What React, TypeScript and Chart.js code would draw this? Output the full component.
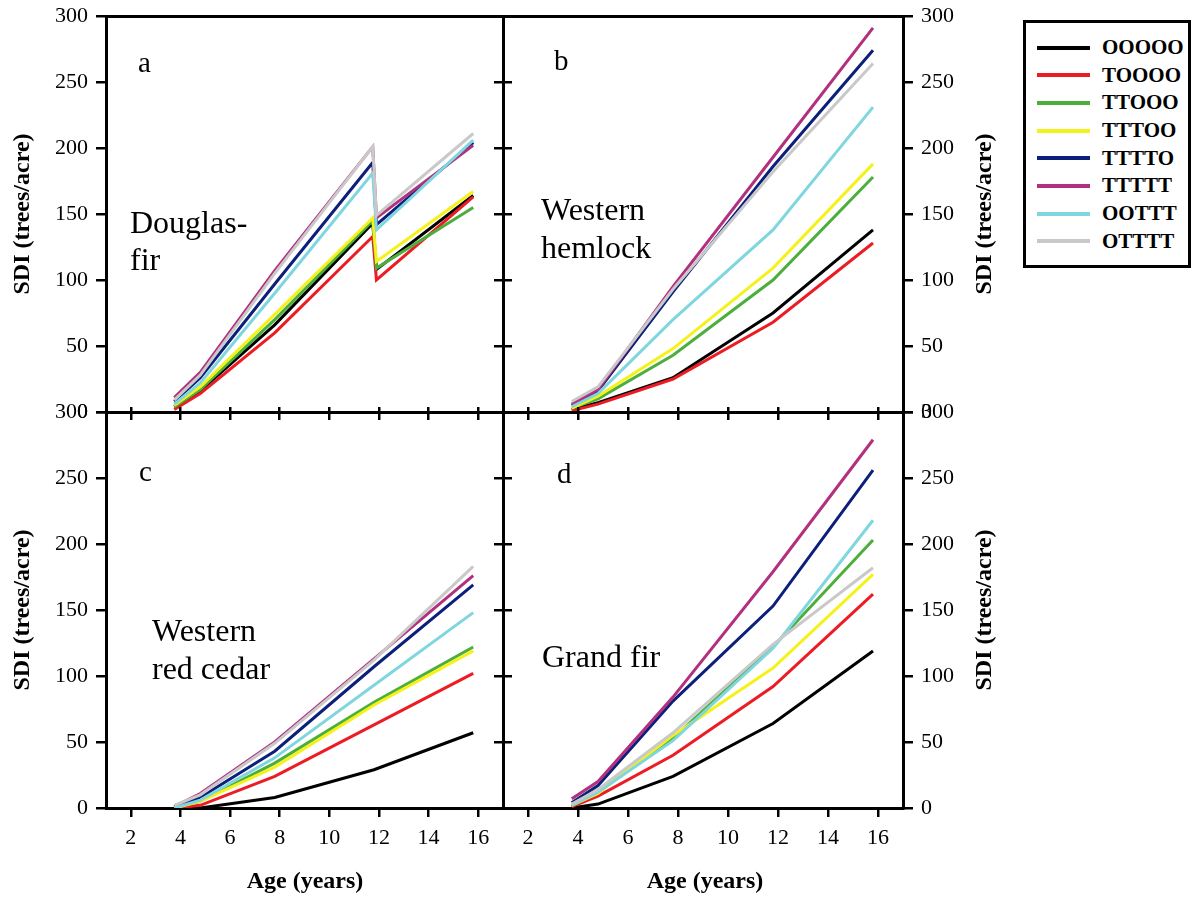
import React, { useEffect, useRef } from "react";
import { Chart, registerables } from "chart.js";

Chart.register(...registerables);

const W = 1192;
const H = 898;
const SERIF = "'Liberation Serif', 'Times New Roman', Times, serif";

// ---- data ----
const SERIES = ["OOOOO", "TOOOO", "TTOOO", "TTTOO", "TTTTO", "TTTTT", "OOTTT", "OTTTT"];
const COLORS = ["#000000", "#ec1c24", "#4caf3c", "#f5f21a", "#0c1f7a", "#b3307e", "#7fd6de", "#c9c9c9"];

const X_TICKS = [2, 4, 6, 8, 10, 12, 14, 16];
const Y_TICKS = [0, 50, 100, 150, 200, 250, 300];

const AGES = [3.75, 4.8, 7.8, 11.8, 15.8];
const AGES_DF = [3.75, 4.8, 7.8, 11.75, 11.9, 15.8];

// a: Douglas-fir (thinning drop at ~12)
const DF_OOOOO = [4, 16, 66, 143, 108, 164];
const DF_TOOOO = [2, 14, 60, 133, 100, 163];
const DF_TTOOO = [4, 17, 70, 145, 109, 155];
const DF_TTTOO = [5, 19, 74, 147, 114, 167];
const DF_TTTTO = [8, 26, 97, 189, 142, 204];
const DF_TTTTT = [11, 30, 107, 201, 147, 202];
const DF_OOTTT = [6, 22, 90, 181, 138, 206];
const DF_OTTTT = [9, 28, 105, 201, 149, 211];

// b: Western hemlock
const WH_OOOOO = [2, 7, 26, 75, 138];
const WH_TOOOO = [1, 6, 25, 68, 128];
const WH_TTOOO = [3, 10, 43, 100, 178];
const WH_TTTOO = [3, 12, 48, 109, 188];
const WH_TTTTO = [5, 16, 91, 186, 274];
const WH_TTTTT = [6, 17, 95, 193, 291];
const WH_OOTTT = [4, 14, 70, 138, 231];
const WH_OTTTT = [8, 19, 93, 182, 264];

// c: Western red cedar
const RC_OOOOO = [0, 0, 8, 29, 57];
const RC_TOOOO = [0, 2, 24, 63, 102];
const RC_TTOOO = [0, 5, 34, 80, 122];
const RC_TTTOO = [0, 5, 31, 78, 119];
const RC_TTTTO = [1, 8, 43, 107, 169];
const RC_TTTTT = [1, 11, 50, 113, 176];
const RC_OOTTT = [0, 6, 38, 93, 148];
const RC_OTTTT = [2, 10, 49, 112, 183];

// d: Grand fir
const GF_OOOOO = [0, 3, 24, 64, 119];
const GF_TOOOO = [1, 9, 40, 92, 162];
const GF_TTOOO = [2, 12, 53, 122, 203];
const GF_TTTOO = [2, 11, 55, 106, 177];
const GF_TTTTO = [4, 17, 81, 153, 256];
const GF_TTTTT = [7, 20, 84, 179, 279];
const GF_OOTTT = [2, 12, 51, 121, 218];
const GF_OTTTT = [3, 14, 57, 124, 182];

const DOUGLAS_FIR = [DF_OOOOO, DF_TOOOO, DF_TTOOO, DF_TTTOO, DF_TTTTO, DF_TTTTT, DF_OOTTT, DF_OTTTT];
const WESTERN_HEMLOCK = [WH_OOOOO, WH_TOOOO, WH_TTOOO, WH_TTTOO, WH_TTTTO, WH_TTTTT, WH_OOTTT, WH_OTTTT];
const RED_CEDAR = [RC_OOOOO, RC_TOOOO, RC_TTOOO, RC_TTTOO, RC_TTTTO, RC_TTTTT, RC_OOTTT, RC_OTTTT];
const GRAND_FIR = [GF_OOOOO, GF_TOOOO, GF_TTOOO, GF_TTTOO, GF_TTTTO, GF_TTTTT, GF_OOTTT, GF_OTTTT];

const Y_TITLE = "SDI (trees/acre)";
const X_TITLE = "Age (years)";

// ---- layout ----
type Side = { len: number; labels?: boolean } | null;
type TextItem = { text: string; x: number; y: number; size: number; bold?: boolean; align?: CanvasTextAlign; baseline?: CanvasTextBaseline; rot?: number };
type PanelCfg = {
  data: number[][];
  ages: number[];
  rect: { l: number; t: number; r: number; b: number };
  bottom: Side; top: Side; left: Side; right: Side;
  texts: TextItem[];
};

const ROT = -Math.PI / 2;
const Y_LABEL_SPACE = 80;
const X_LABEL_SPACE = 50;

const PANELS: PanelCfg[] = [
  {
    data: DOUGLAS_FIR, ages: AGES_DF,
    rect: { l: 106, t: 16, r: 503, b: 412 },
    bottom: { len: 8 }, top: null, left: { len: 10, labels: true }, right: { len: 9 },
    texts: [
      { text: "a", x: 138, y: 72, size: 29 },
      { text: "Douglas-", x: 130, y: 233, size: 32 },
      { text: "fir", x: 130, y: 270, size: 32 },
      { text: Y_TITLE, x: 23, y: 214, size: 24, bold: true, align: "center", baseline: "middle", rot: ROT },
    ],
  },
  {
    data: WESTERN_HEMLOCK, ages: AGES,
    rect: { l: 503, t: 16, r: 903, b: 412 },
    bottom: { len: 8 }, top: null, left: { len: 9 }, right: { len: 10, labels: true },
    texts: [
      { text: "b", x: 554, y: 70, size: 29 },
      { text: "Western", x: 541, y: 220, size: 32 },
      { text: "hemlock", x: 541, y: 258, size: 32 },
      { text: Y_TITLE, x: 985, y: 214, size: 24, bold: true, align: "center", baseline: "middle", rot: ROT },
    ],
  },
  {
    data: RED_CEDAR, ages: AGES,
    rect: { l: 106, t: 412, r: 503, b: 808 },
    bottom: { len: 9, labels: true }, top: { len: 5 }, left: { len: 10, labels: true }, right: { len: 9 },
    texts: [
      { text: "c", x: 139, y: 481, size: 29 },
      { text: "Western", x: 152, y: 641, size: 32 },
      { text: "red cedar", x: 152, y: 679, size: 32 },
      { text: Y_TITLE, x: 23, y: 610, size: 24, bold: true, align: "center", baseline: "middle", rot: ROT },
      { text: X_TITLE, x: 305, y: 882, size: 24, bold: true, align: "center", baseline: "middle" },
    ],
  },
  {
    data: GRAND_FIR, ages: AGES,
    rect: { l: 503, t: 412, r: 903, b: 808 },
    bottom: { len: 9, labels: true }, top: { len: 5 }, left: { len: 9 }, right: { len: 10, labels: true },
    texts: [
      { text: "d", x: 557, y: 483, size: 29 },
      { text: "Grand fir", x: 542, y: 667, size: 32 },
      { text: Y_TITLE, x: 985, y: 610, size: 24, bold: true, align: "center", baseline: "middle", rot: ROT },
      { text: X_TITLE, x: 705, y: 882, size: 24, bold: true, align: "center", baseline: "middle" },
    ],
  },
];

const textPlugin = {
  id: "panelText",
  afterDraw(chart: any, _args: any, opts: any) {
    const ctx = chart.ctx as CanvasRenderingContext2D;
    (opts.items || []).forEach((it: TextItem) => {
      ctx.save();
      ctx.font = `${it.bold ? "bold " : ""}${it.size}px ${SERIF}`;
      ctx.fillStyle = "#000";
      ctx.textAlign = it.align || "left";
      ctx.textBaseline = it.baseline || "alphabetic";
      ctx.translate(it.x, it.y);
      if (it.rot) ctx.rotate(it.rot);
      ctx.fillText(it.text, 0, 0);
      ctx.restore();
    });
  },
};

function sideSpace(axis: "x" | "y", side: Side) {
  if (!side || !side.labels) return 0;
  return axis === "x" ? X_LABEL_SPACE : Y_LABEL_SPACE;
}

function mkScale(axis: "x" | "y", position: string, side: Side) {
  const isX = axis === "x";
  const space = sideSpace(axis, side);
  return {
    type: "linear",
    axis,
    position,
    min: isX ? 1 : 0,
    max: isX ? 17 : 300,
    afterFit: (s: any) => {
      if (isX) s.height = space;
      else s.width = space;
      s.paddingTop = 0; s.paddingBottom = 0; s.paddingLeft = 0; s.paddingRight = 0;
    },
    afterBuildTicks: (s: any) => {
      s.ticks = (isX ? X_TICKS : Y_TICKS).map((v) => ({ value: v }));
    },
    grid: {
      display: !!side,
      drawOnChartArea: false,
      drawTicks: true,
      tickLength: side ? side.len : 0,
      color: "#000",
      lineWidth: 2.5,
    },
    border: { display: true, color: "#000", width: 3 },
    ticks: {
      display: !!(side && side.labels),
      padding: isX ? 8 : 8,
      color: "#000",
      font: { family: SERIF, size: 22 },
      maxRotation: 0,
      autoSkip: false,
    },
  };
}

function buildConfig(p: PanelCfg): any {
  const padL = p.rect.l - sideSpace("y", p.left);
  const padR = W - p.rect.r - sideSpace("y", p.right);
  const padT = p.rect.t - sideSpace("x", p.top);
  const padB = H - p.rect.b - sideSpace("x", p.bottom);
  return {
    type: "line",
    data: {
      datasets: SERIES.map((name, i) => ({
        label: name,
        data: p.ages.map((a, j) => ({ x: a, y: p.data[i][j] })),
        borderColor: COLORS[i],
        backgroundColor: COLORS[i],
        borderWidth: 3,
        pointRadius: 0,
        tension: 0,
        fill: false,
        order: -i,
        xAxisID: "x",
        yAxisID: "y",
      })),
    },
    options: {
      responsive: false,
      animation: false,
      events: [],
      layout: { padding: { left: padL, top: padT, right: padR, bottom: padB } },
      plugins: { legend: { display: false }, tooltip: { enabled: false }, panelText: { items: p.texts } },
      scales: {
        x: mkScale("x", "bottom", p.bottom),
        x2: mkScale("x", "top", p.top),
        y: mkScale("y", "left", p.left),
        y2: mkScale("y", "right", p.right),
      },
    },
    plugins: [textPlugin],
  };
}

function Panel({ cfg }: { cfg: PanelCfg }) {
  const ref = useRef<HTMLCanvasElement>(null);
  useEffect(() => {
    const chart = new Chart(ref.current as HTMLCanvasElement, buildConfig(cfg));
    return () => chart.destroy();
  }, [cfg]);
  return <canvas ref={ref} width={W} height={H} style={{ position: "absolute", left: 0, top: 0 }} />;
}

const LEGEND_ROWS_Y = [47.5, 75.2, 102.8, 130.5, 158.2, 185.8, 213.5, 241.2];

function Legend() {
  return (
    <>
      <div
        style={{
          position: "absolute", left: 1023, top: 20, width: 168, height: 248,
          border: "3px solid #000", boxSizing: "border-box", background: "#fff",
        }}
      />
      {SERIES.map((name, i) => (
        <React.Fragment key={name}>
          <div
            style={{
              position: "absolute", left: 1037, width: 53, height: 4,
              top: LEGEND_ROWS_Y[i] - 2, background: COLORS[i],
            }}
          />
          <div
            style={{
              position: "absolute", left: 1102, top: LEGEND_ROWS_Y[i] - 10.5, height: 21,
              font: `bold 21px ${SERIF}`, lineHeight: "21px", color: "#000", whiteSpace: "nowrap",
            }}
          >
            {name}
          </div>
        </React.Fragment>
      ))}
    </>
  );
}

export default function App() {
  return (
    <div style={{ position: "absolute", left: 0, top: 0, width: W, height: H, background: "#fff", overflow: "hidden" }}>
      <Legend />
      {PANELS.map((p, i) => (
        <Panel key={i} cfg={p} />
      ))}
    </div>
  );
}
